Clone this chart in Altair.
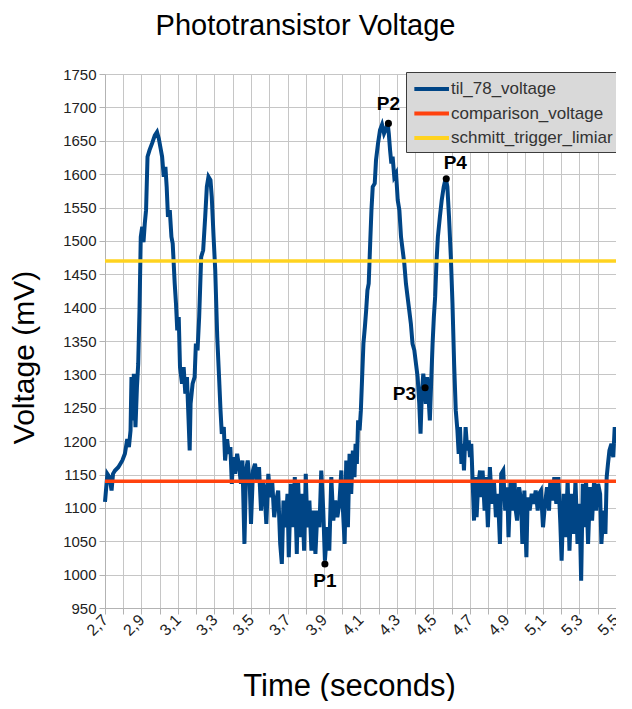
import altair as alt
import pandas as pd

# ---------------- data ----------------
time_s = [
    2.700, 2.713, 2.725, 2.736, 2.744, 2.755, 2.773, 2.795, 2.809, 2.822,
    2.831, 2.840, 2.845, 2.853, 2.858, 2.867, 2.875, 2.882, 2.889, 2.896,
    2.904, 2.911, 2.918, 2.925, 2.933, 2.944, 2.958, 2.973, 2.985, 2.995,
    3.005, 3.013, 3.022, 3.031, 3.038, 3.045, 3.055, 3.064, 3.071, 3.082,
    3.089, 3.096, 3.104, 3.111, 3.122, 3.131, 3.140, 3.149, 3.158, 3.164,
    3.169, 3.180, 3.191, 3.198, 3.207, 3.216, 3.227, 3.238, 3.249, 3.258,
    3.267, 3.278, 3.285, 3.295, 3.304, 3.315, 3.325, 3.333, 3.340, 3.351,
    3.358, 3.369, 3.378, 3.387, 3.395, 3.402, 3.413, 3.424, 3.435, 3.445,
    3.453, 3.464, 3.473, 3.482, 3.493, 3.500, 3.511, 3.522, 3.533, 3.544,
    3.555, 3.564, 3.573, 3.584, 3.595, 3.605, 3.616, 3.627, 3.638, 3.649,
    3.660, 3.669, 3.678, 3.689, 3.700, 3.707, 3.718, 3.729, 3.740, 3.751,
    3.758, 3.769, 3.780, 3.791, 3.800, 3.809, 3.820, 3.831, 3.842, 3.853,
    3.864, 3.875, 3.885, 3.896, 3.905, 3.918, 3.929, 3.940, 3.951, 3.962,
    3.973, 3.984, 3.995, 4.004, 4.013, 4.022, 4.031, 4.040, 4.049, 4.058,
    4.067, 4.073, 4.080, 4.087, 4.095, 4.102, 4.109, 4.116, 4.124, 4.131,
    4.138, 4.145, 4.153, 4.160, 4.167, 4.178, 4.185, 4.196, 4.207, 4.218,
    4.229, 4.240, 4.249, 4.255, 4.262, 4.269, 4.276, 4.285, 4.295, 4.304,
    4.313, 4.322, 4.331, 4.340, 4.349, 4.358, 4.367, 4.376, 4.385, 4.395,
    4.404, 4.413, 4.422, 4.429, 4.436, 4.444, 4.451, 4.458, 4.465, 4.473,
    4.480, 4.487, 4.495, 4.502, 4.509, 4.516, 4.524, 4.535, 4.545, 4.556,
    4.567, 4.576, 4.585, 4.595, 4.604, 4.613, 4.622, 4.631, 4.638, 4.645,
    4.653, 4.660, 4.667, 4.676, 4.685, 4.693, 4.700, 4.707, 4.715, 4.722,
    4.729, 4.736, 4.744, 4.755, 4.762, 4.769, 4.780, 4.787, 4.798, 4.809,
    4.820, 4.831, 4.842, 4.853, 4.864, 4.871, 4.882, 4.893, 4.904, 4.911,
    4.922, 4.933, 4.944, 4.951, 4.958, 4.969, 4.980, 4.987, 4.998, 5.009,
    5.016, 5.027, 5.038, 5.049, 5.060, 5.071, 5.078, 5.089, 5.100, 5.111,
    5.122, 5.133, 5.140, 5.151, 5.162, 5.173, 5.184, 5.195, 5.202, 5.213,
    5.224, 5.235, 5.245, 5.256, 5.267, 5.278, 5.289, 5.300, 5.309, 5.318,
    5.329, 5.336, 5.347, 5.358, 5.369, 5.380, 5.391, 5.402, 5.413, 5.420,
    5.431, 5.442, 5.449, 5.456, 5.464, 5.475, 5.485, 5.493, 5.500,
]
voltage_mv = [
    1109, 1151, 1146, 1126, 1151, 1156, 1161, 1171, 1181, 1203,
    1191, 1216, 1296, 1231, 1301, 1221, 1281, 1316, 1396, 1506,
    1521, 1498, 1526, 1546, 1626, 1636, 1646, 1658, 1663, 1653,
    1638, 1626, 1596, 1611, 1581, 1536, 1546, 1506, 1496, 1436,
    1406, 1366, 1386, 1311, 1286, 1311, 1271, 1296, 1231, 1186,
    1256, 1286, 1296, 1346, 1336, 1386, 1476, 1486, 1536, 1581,
    1596, 1591, 1566, 1506, 1456, 1356, 1296, 1246, 1211, 1221,
    1171, 1203, 1181, 1191, 1136, 1176, 1151, 1181, 1161, 1136,
    1171, 1046, 1156, 1171, 1136, 1076, 1156, 1166, 1141, 1161,
    1096, 1141, 1131, 1076, 1151, 1116, 1141, 1086, 1111, 1126,
    1046, 1016, 1111, 1071, 1121, 1026, 1136, 1071, 1146, 1031,
    1141, 1056, 1121, 1036, 1151, 1071, 1111, 1036, 1096, 1031,
    1096, 1071, 1156, 1096, 1021, 1071, 1036, 1146, 1081, 1111,
    1086, 1106, 1156, 1096, 1046, 1171, 1071, 1181, 1121, 1186,
    1146, 1196, 1166, 1231, 1216, 1246, 1296, 1346, 1371, 1396,
    1426, 1436, 1496, 1546, 1581, 1586, 1621, 1646, 1666, 1674,
    1661, 1668, 1676, 1661, 1636, 1616, 1626, 1596, 1601, 1561,
    1546, 1506, 1486, 1466, 1436, 1416, 1396, 1376, 1346, 1336,
    1316, 1296, 1256, 1211, 1271, 1301, 1281, 1256, 1296, 1266,
    1231, 1286, 1346, 1386, 1416, 1466, 1506, 1536, 1561, 1581,
    1594, 1581, 1536, 1476, 1406, 1316, 1246, 1216, 1181, 1221,
    1166, 1196, 1156, 1221, 1186, 1201, 1176, 1196, 1136, 1081,
    1146, 1086, 1131, 1156, 1116, 1156, 1096, 1146, 1071, 1161,
    1106, 1141, 1086, 1121, 1046, 1151, 1156, 1096, 1131, 1056,
    1141, 1096, 1141, 1096, 1081, 1131, 1111, 1046, 1126, 1026,
    1116, 1096, 1121, 1106, 1126, 1096, 1121, 1126, 1071, 1106,
    1131, 1096, 1141, 1111, 1146, 1106, 1146, 1076, 1021, 1121,
    1056, 1141, 1036, 1121, 1061, 1141, 1046, 1106, 991, 1136,
    1071, 1141, 1046, 1131, 1081, 1141, 1096, 1136, 1121, 1046,
    1096, 1061, 1146, 1166, 1186, 1196, 1176, 1221, 1196,
]

series_names = ["til_78_voltage", "comparison_voltage", "schmitt_trigger_limiar"]
series_colors = ["#004586", "#ff420e", "#ffd320"]
reference_mv = [1140, 1470]  # comparison_voltage, schmitt_trigger_limiar

point_labels = ["P1", "P2", "P3", "P4"]
point_time = [3.905, 4.253, 4.454, 4.570]
point_mv = [1016, 1676, 1280, 1593]

x_ticks = [2.7, 2.8, 2.9, 3.0, 3.1, 3.2, 3.3, 3.4, 3.5, 3.6, 3.7, 3.8, 3.9, 4.0, 4.1,
           4.2, 4.3, 4.4, 4.5, 4.6, 4.7, 4.8, 4.9, 5.0, 5.1, 5.2, 5.3, 5.4, 5.5]
y_ticks = [950, 1000, 1050, 1100, 1150, 1200, 1250, 1300, 1350, 1400, 1450,
           1500, 1550, 1600, 1650, 1700, 1750]

# ---------------- tables ----------------
line_df = pd.DataFrame({"t": time_s, "v": voltage_mv, "series": series_names[0]})
ref_df = pd.DataFrame({"v": reference_mv, "series": series_names[1:]})
pts_df = pd.DataFrame({"label": point_labels, "t": point_time, "v": point_mv})

FONT = "Liberation Sans"

color = alt.Color(
    "series:N",
    scale=alt.Scale(domain=series_names, range=series_colors),
    title=None,
    legend=alt.Legend(
        orient="none",
        legendX=301,
        legendY=-2,
        fillColor="#d9d9d9",
        strokeColor="#3c3c3c",
        padding=6,
        symbolType="M-1,0H3",
        symbolSize=300,
        symbolStrokeWidth=4,
        labelOffset=17,
        labelFont=FONT,
        labelFontSize=17,
        labelColor="#333333",
        rowPadding=5.5,
        labelLimit=300,
    ),
)

x_enc = alt.X(
    "t:Q",
    scale=alt.Scale(domain=[2.7, 5.5], nice=False, zero=False),
    axis=alt.Axis(
        values=x_ticks,
        labelExpr="(round(datum.value*10) % 2 == 1) ? replace(format(datum.value, '.1f'), '.', ',') : ''",
        labelOverlap=False,
        labelAngle=315,
        labelAlign="right",
        labelBaseline="middle",
        labelOffset=0,
        labelPadding=3,
        labelFontSize=16,
        title="Time (seconds)",
        titleFontSize=31,
        titleFontWeight="normal",
        titleX=244,
        titleY=78,
        titleBaseline="middle",
        titleAlign="center",
    ),
)
y_enc = alt.Y(
    "v:Q",
    scale=alt.Scale(domain=[950, 1750], nice=False, zero=False),
    axis=alt.Axis(
        values=y_ticks,
        format="d",
        labelOverlap=False,
        labelFontSize=15,
        labelPadding=3,
        title="Voltage (mV)",
        titleFontSize=30,
        titleFontWeight="normal",
        titleAngle=270,
        titleX=-81,
        titleY=283,
        titleBaseline="middle",
        titleAlign="center",
    ),
)

line = alt.Chart(line_df).mark_line(strokeWidth=4).encode(x=x_enc, y=y_enc, color=color)
rules = alt.Chart(ref_df).mark_rule(strokeWidth=3.5).encode(y=y_enc, color=color)
dots = alt.Chart(pts_df).mark_circle(size=50, color="black", opacity=1).encode(x=x_enc, y=y_enc)


def label_layer(name, **kw):
    return (
        alt.Chart(pts_df)
        .transform_filter(alt.datum.label == name)
        .mark_text(font=FONT, fontSize=19, fontWeight="bold", color="black", **kw)
        .encode(x=x_enc, y=y_enc, text="label:N")
    )


labels = (
    label_layer("P1", dy=17, align="center", baseline="middle")
    + label_layer("P2", dy=-19, align="center", baseline="middle")
    + label_layer("P3", dx=-9, dy=6, align="right", baseline="middle")
    + label_layer("P4", dx=9, dy=-16, align="center", baseline="middle")
)

chart = (
    alt.layer(line, rules, dots, labels)
    .properties(
        width=511,
        height=534,
        autosize=alt.AutoSizeParams(type="none"),
        padding={"left": 97, "top": 66, "right": 0, "bottom": 93},
        title=alt.TitleParams(
            "Phototransistor Voltage",
            font=FONT,
            fontSize=29,
            fontWeight="normal",
            color="black",
            anchor="middle",
            frame="group",
            dx=-55,
            dy=27,
            offset=24,
            baseline="bottom",
        ),
    )
    .configure_view(stroke=None)
    .configure_axis(
        labelFont=FONT,
        titleFont=FONT,
        labelColor="#222222",
        titleColor="black",
        gridColor="#c6c6c6",
        gridWidth=1,
        domainColor="#b3b3b3",
        tickColor="#b3b3b3",
        tickSize=6,
    )
)

chart.save("out.html", embed_options={"renderer": "svg", "actions": False})
